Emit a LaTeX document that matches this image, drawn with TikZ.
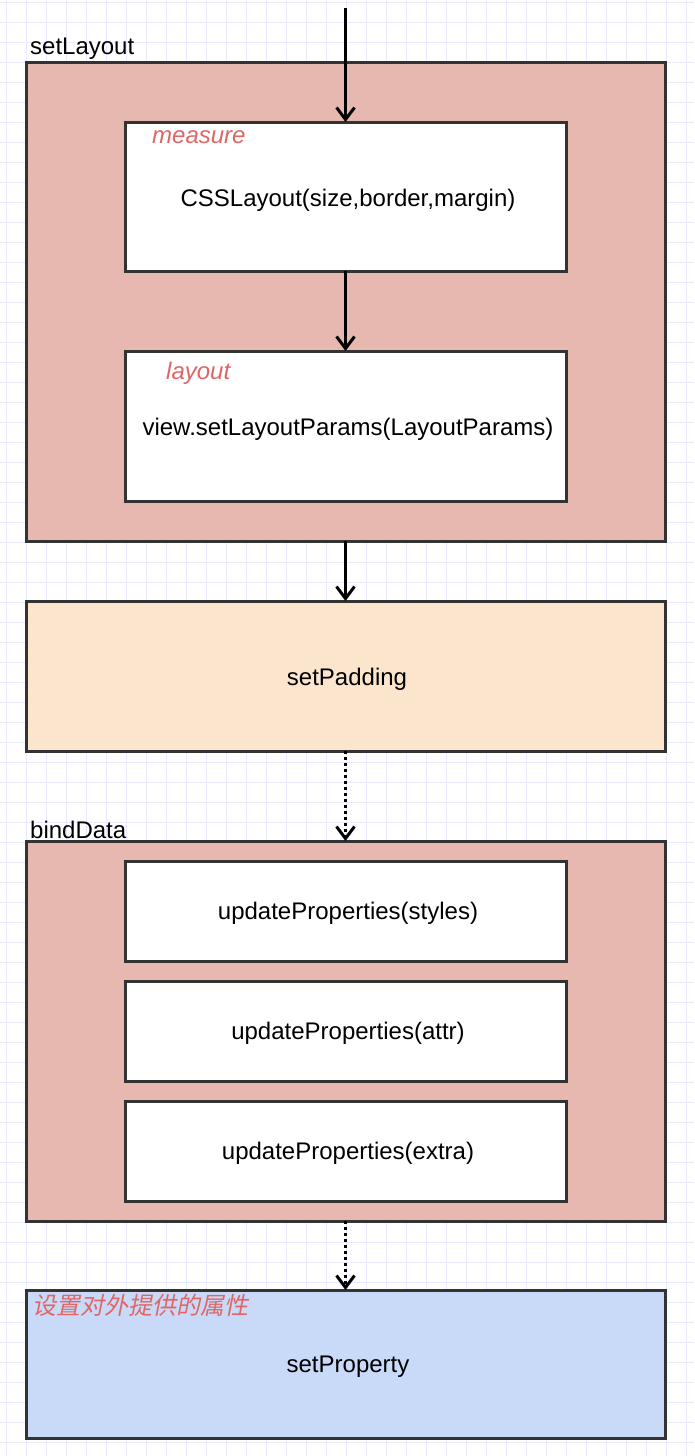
\documentclass[tikz,border=0pt]{standalone}
\usepackage{fontspec}
\setmainfont{Liberation Sans}
\newfontfamily\cjk[FakeSlant=0.2]{Noto Sans CJK SC}
\usetikzlibrary{arrows.meta}
\definecolor{gridc}{RGB}{232,232,255}
\definecolor{pinkfill}{RGB}{230,184,175}
\definecolor{peachfill}{RGB}{252,229,205}
\definecolor{bluefill}{RGB}{201,218,248}
\definecolor{redtxt}{RGB}{224,102,102}
\definecolor{edge}{RGB}{51,51,51}
\tikzset{
  x=1pt,y=-1pt,
  outerbox/.style={draw=edge,line width=3pt,fill=pinkfill},
  innerbox/.style={draw=edge,line width=3pt,fill=white},
  txt/.style={font=\fontsize{24}{26}\selectfont,inner sep=0pt},
  redlbl/.style={font=\fontsize{24}{26}\selectfont\itshape,text=redtxt,inner sep=0pt,anchor=west},
  blacklbl/.style={font=\fontsize{24}{26}\selectfont,inner sep=0pt,anchor=west},
  flow/.style={line width=3pt,-{Straight Barb[length=12pt,width=18pt,line width=3pt]}},
  dflow/.style={line width=3pt,dash pattern=on 3pt off 3pt,-{Straight Barb[length=12pt,width=18pt,line width=3pt]}},
}
\begin{document}
\begin{tikzpicture}
\useasboundingbox (0,0) rectangle (694,1456);
\fill[white] (0,0) rectangle (694,1456);
\foreach \i in {0,...,34} {\draw[gridc,line width=1pt] (6.7+20*\i,0) -- (6.7+20*\i,1456);}
\foreach \j in {0,...,72} {\draw[gridc,line width=1pt] (0,2.7+20*\j) -- (694,2.7+20*\j);}

% boxes
\draw[outerbox] (26,62) rectangle (665,541);
\coordinate (slbot) at (345.5,541);
\draw[innerbox] (125,122) rectangle (566,271);
\coordinate (mtop) at (345.5,122);
\coordinate (mbot) at (345.5,271);
\draw[innerbox] (125,351) rectangle (566,501);
\coordinate (ltop) at (345.5,351);
\draw[outerbox,fill=peachfill] (26,601) rectangle (665,751);
\coordinate (ptop) at (345.5,601);
\coordinate (pbot) at (345.5,751);
\draw[outerbox] (26,841) rectangle (665,1221);
\coordinate (btop) at (345.5,841);
\coordinate (bbot) at (345.5,1221);
\draw[innerbox] (125,861) rectangle (566,961);
\draw[innerbox] (125,981) rectangle (566,1081);
\draw[innerbox] (125,1101) rectangle (566,1201);
\draw[outerbox,fill=bluefill] (26,1290) rectangle (665,1438);
\coordinate (sptop) at (345.5,1290);
\coordinate (start) at (345.5,8);

% texts
\node[blacklbl] (t1) at (30,49) {setLayout};
\node[redlbl] (t2) at (152,137) {measure};
\node[txt] (t3) at (348,200.5) {CSSLayout(size,border,margin)};
\node[redlbl] (t4) at (166,373) {layout};
\node[txt] (t5) at (348,429.5) {view.setLayoutParams(LayoutParams)};
\node[txt] (t6) at (347,679.5) {setPadding};
\node[blacklbl] (t7) at (30,830) {bindData};
\node[txt] (t8) at (348,913.5) {updateProperties(styles)};
\node[txt] (t9) at (348,1033.5) {updateProperties(attr)};
\node[txt] (t10) at (348,1153.5) {updateProperties(extra)};
\node[redlbl,font=\fontsize{24}{26}\selectfont\cjk] (t11) at (32,1305) {设置对外提供的属性};
\node[txt] (t12) at (348,1366.5) {setProperty};

% arrows
\draw[flow] (start) -- (mtop);
\draw[flow] (mbot) -- (ltop);
\draw[flow] (slbot) -- (ptop);
\draw[dflow] (pbot) -- (btop);
\draw[dflow] (bbot) -- (sptop);
\end{tikzpicture}
\end{document}
